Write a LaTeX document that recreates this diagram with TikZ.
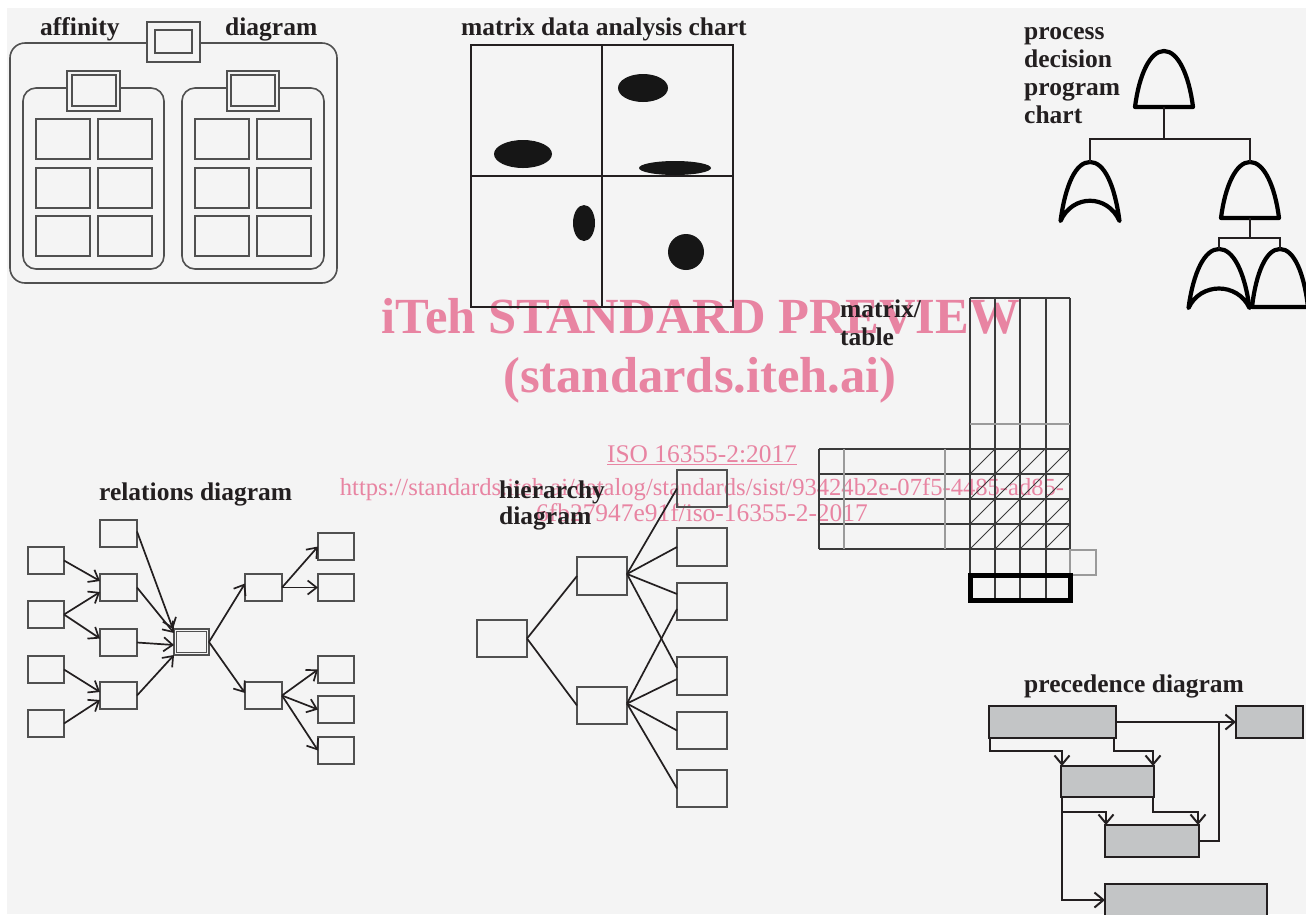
\documentclass[tikz,border=0pt]{standalone}
\usepackage{fontspec}
\setmainfont{Liberation Serif}
\usetikzlibrary{arrows.meta}
\definecolor{bgc}{HTML}{F4F4F4}
\definecolor{ink}{HTML}{231F20}
\definecolor{wm}{RGB}{232,132,162}
\definecolor{pgray}{HTML}{C3C5C6}
\definecolor{bline}{HTML}{505050}
\definecolor{tline}{HTML}{3A3A3A}
\definecolor{tlight}{HTML}{9A9A9A}
\definecolor{blob}{HTML}{161616}
% AND-type gate: name, apex x, apex y, bottom y, half width
\newcommand\pdand[5]{%
  \draw[gate] (#2-#5,#4) .. controls (#2-#5+4,#3+24) and (#2-14,#3) .. (#2,#3)
     .. controls (#2+14,#3) and (#2+#5-4,#3+24) .. (#2+#5,#4) -- cycle;
  \coordinate (#1-top) at (#2,#3);
  \coordinate (#1-bot) at (#2,#4);}
% OR-type gate: name, apex x, apex y, tip y, half width, inner arch y
\newcommand\pdor[6]{%
  \draw[gate] (#2-#5,#4) .. controls (#2-#5+5,#3+22) and (#2-14,#3) .. (#2,#3)
     .. controls (#2+14,#3) and (#2+#5-5,#3+22) .. (#2+#5,#4)
     .. controls (#2+#5-12,#6-7) and (#2-#5+12,#6-7) .. cycle;
  \coordinate (#1-top) at (#2,#3);}
\begin{document}
\begin{tikzpicture}[x=1pt,y=-1pt,
  lbl/.style={font=\fontsize{25.5}{28}\selectfont\bfseries, text=ink, inner sep=0pt, anchor=base west},
  wmb/.style={font=\fontsize{50.6}{56}\selectfont\bfseries, text=wm, inner sep=0pt, anchor=base},
  wms/.style={font=\fontsize{25.4}{28}\selectfont, text=wm, inner sep=0pt, anchor=base},
  sz/.style 2 args={minimum width=#1, minimum height=#2},
  abox/.style={draw=bline, line width=1.6pt, inner sep=0pt, outer sep=0pt, anchor=north west},
  afill/.style={abox, fill=bgc},
  rbox/.style={draw=bline, line width=1.6pt, inner sep=0pt, outer sep=0pt, anchor=north west},
  rarr/.style={draw=ink, line width=1.7pt, -{Straight Barb[length=9pt,width=14pt]}},
  hln/.style={draw=ink, line width=1.7pt},
  pbox/.style={draw=ink, fill=pgray, line width=2.2pt, inner sep=0pt, outer sep=0pt, anchor=north west},
  parr/.style={draw=ink, line width=2pt, -{Straight Barb[length=9pt,width=15pt]}},
  pln/.style={draw=ink, line width=2pt},
  gate/.style={draw=black, line width=4.2pt, line join=round},
  gln/.style={draw=ink, line width=2.2pt},
  tl/.style={draw=tline, line width=1.4pt},
  tll/.style={draw=tlight, line width=1.3pt},
]
\useasboundingbox (0,0) rectangle (1306,914);
\clip (0,0) rectangle (1306,914);
\fill[white] (0,0) rectangle (1306,914);
\fill[bgc] (7,8) rectangle (1306,914);

% ---------- watermark ----------
\node[wmb] (wm1) at (701,333) {iTeh STANDARD PREVIEW};
\node[wmb] (wm2) at (700,392) {(standards.iteh.ai)};
\node[wms] (wm3) at (702,462) {\underline{ISO 16355-2:2017}};
\node[wms, font=\fontsize{24.6}{28}\selectfont] (wm4) at (702,495) {https://standards.iteh.ai/catalog/standards/sist/93424b2e-07f5-4485-ad85-};
\node[wms] (wm5) at (702,521) {6fb27947e91f/iso-16355-2-2017};

% ---------- affinity diagram ----------
\node[lbl] (tAff1) at (40,35) {affinity};
\node[lbl] (tAff2) at (225,35) {diagram};
\draw[bline, line width=1.6pt, rounded corners=15pt] (10,43) rectangle (337,283);
\draw[bline, line width=1.6pt, rounded corners=13pt] (23,88) rectangle (164,269);
\draw[bline, line width=1.6pt, rounded corners=13pt] (182,88) rectangle (324,269);
\node[afill, sz={53}{40}] (aTop) at (147,22) {};
\node[abox, sz={37}{23}] (aTopIn) at (155,30) {};
\node[afill, sz={53}{40}] (aL) at (67,71) {};
\node[abox, sz={44}{31}] (aLIn) at (72,75) {};
\node[afill, sz={52}{40}] (aR) at (227,71) {};
\node[abox, sz={44}{31}] (aRIn) at (231,75) {};
\foreach \r/\y in {1/119,2/168,3/216}{
  \foreach \c/\x in {1/36,2/98,3/195,4/257}{
    \node[abox, sz={54}{40}] (aff\r\c) at (\x,\y) {};
  }
}

% ---------- matrix data analysis chart ----------
\node[lbl] (tMda) at (461,35) {matrix data analysis chart};
\node[draw=ink, line width=2.5pt, sz={262}{262}, anchor=north west, inner sep=0pt, outer sep=0pt] (mda) at (471,45) {};
\draw[ink, line width=2pt] (mda.north) -- (mda.south);
\draw[ink, line width=2pt] (mda.west) -- (mda.east);
\fill[blob] (643,88) ellipse [x radius=25pt, y radius=14pt];
\fill[blob] (523,154) ellipse [x radius=29pt, y radius=14pt];
\fill[blob] (675,168) ellipse [x radius=36pt, y radius=7pt];
\fill[blob] (584,223) ellipse [x radius=11pt, y radius=18pt];
\fill[blob] (686,252) circle [radius=18pt];

% ---------- process decision program chart ----------
\node[lbl] (tP1) at (1024,39) {process};
\node[lbl] (tP2) at (1024,67) {decision};
\node[lbl] (tP3) at (1024,95) {program};
\node[lbl] (tP4) at (1024,123) {chart};
\pdand{g1}{1164}{51}{107}{29}
\pdor{g2}{1090}{162}{221}{29.5}{201}
\pdand{g3}{1250}{162}{218}{29}
\pdor{g4}{1219}{249}{308}{30.5}{289}
\pdand{g5}{1280}{249}{307}{28}
\draw[gln] (g1-bot) -- ++(0,32) coordinate (j1);
\draw[gln] (g2-top) |- (j1);
\draw[gln] (g3-top) |- (j1);
\draw[gln] (g3-bot) -- ++(0,20) coordinate (j2);
\draw[gln] (g4-top) |- (j2);
\draw[gln] (g5-top) |- (j2);

% ---------- matrix / table ----------
\node[lbl] (tMt1) at (840,317) {matrix/};
\node[lbl] (tMt2) at (840,345) {table};
\foreach \x in {970,995,1020,1046,1070} \draw[tl] (\x,298) -- (\x,603);
\draw[tl] (970,298) -- (1070,298);
\draw[tll] (970,424) -- (1070,424);
\foreach \y in {449,474,499,524,549} \draw[tl] (819,\y) -- (1070,\y);
\draw[tl] (819,449) -- (819,549);
\draw[tll] (844,449) -- (844,549);
\draw[tll] (945,449) -- (945,549);
\foreach \i in {0,...,3}{
  \foreach \j in {0,...,3}{
    \draw[tline, line width=0.8pt] (970+25*\i,474+25*\j) -- (995+25*\i,449+25*\j);
  }
}
\draw[tll] (1070,550) rectangle (1096,575);
\draw[black, line width=5pt] (970.5,575.5) rectangle (1070.5,600.5);

% ---------- relations diagram ----------
\node[lbl] (tRel) at (99,500) {relations diagram};
\node[rbox, sz={36}{27}] (L1) at (28,547) {};
\node[rbox, sz={36}{27}] (L2) at (28,601) {};
\node[rbox, sz={36}{27}] (L3) at (28,656) {};
\node[rbox, sz={36}{27}] (L4) at (28,710) {};
\node[rbox, sz={37}{27}] (M0) at (100,520) {};
\node[rbox, sz={37}{27}] (M1) at (100,574) {};
\node[rbox, sz={37}{27}] (M2) at (100,629) {};
\node[rbox, sz={37}{27}] (M3) at (100,682) {};
\node[rbox, fill=bgc, sz={35}{26}] (C) at (174,629) {};
\node[rbox, sz={30}{21}] (Cin) at (176.5,631.5) {};
\node[rbox, sz={37}{27}] (R1) at (245,574) {};
\node[rbox, sz={37}{27}] (R2) at (245,682) {};
\node[rbox, sz={36}{27}] (RR1) at (318,533) {};
\node[rbox, sz={36}{27}] (RR2) at (318,574) {};
\node[rbox, sz={36}{27}] (RR3) at (318,656) {};
\node[rbox, sz={36}{27}] (RR4) at (318,696) {};
\node[rbox, sz={36}{27}] (RR5) at (318,737) {};
\draw[rarr] (L1.east) -- ([yshift=6.5pt]M1.west);
\draw[rarr] (L2.east) -- ([yshift=-4.5pt]M1.west);
\draw[rarr] (L2.east) -- ([yshift=4pt]M2.west);
\draw[rarr] (L3.east) -- ([yshift=3.5pt]M3.west);
\draw[rarr] (L4.east) -- ([yshift=-4.5pt]M3.west);
\draw[rarr] ([yshift=2pt]M0.east) -- ([xshift=-1pt]C.north west);
\draw[rarr] (M1.east) -- ([yshift=-4pt]C.north west);
\draw[rarr] (M2.east) -- ([yshift=-3pt]C.west);
\draw[rarr] (M3.east) -- (C.south west);
\draw[rarr] (C.east) -- ([yshift=4pt]R1.west);
\draw[rarr] (C.east) -- ([yshift=2.5pt]R2.west);
\draw[rarr] (R1.east) -- (RR1.west);
\draw[rarr] (R1.east) -- (RR2.west);
\draw[rarr] (R2.east) -- (RR3.west);
\draw[rarr] (R2.east) -- (RR4.west);
\draw[rarr] (R2.east) -- (RR5.west);

% ---------- hierarchy diagram ----------
\node[lbl] (tH1) at (499,498) {hierarchy};
\node[lbl] (tH2) at (499,524) {diagram};
\node[rbox, sz={50}{37}] (hRoot) at (477,620) {};
\node[rbox, sz={50}{38}] (hM1) at (577,557) {};
\node[rbox, sz={50}{37}] (hM2) at (577,687) {};
\node[rbox, sz={50}{37}] (hA) at (677,470) {};
\node[rbox, sz={50}{38}] (hB) at (677,528) {};
\node[rbox, sz={50}{37}] (hC) at (677,583) {};
\node[rbox, sz={50}{38}] (hD) at (677,657) {};
\node[rbox, sz={50}{37}] (hE) at (677,712) {};
\node[rbox, sz={50}{37}] (hF) at (677,770) {};
\draw[hln] (hRoot.east) -- (hM1.west);
\draw[hln] (hRoot.east) -- (hM2.west);
\draw[hln] ([yshift=2pt]hM1.east) -- (hA.west);
\draw[hln] ([yshift=2pt]hM1.east) -- (hB.west);
\draw[hln] ([yshift=2pt]hM1.east) -- ([yshift=7.5pt]hC.west);
\draw[hln] ([yshift=2pt]hM1.east) -- ([yshift=8pt]hD.west);
\draw[hln] ([yshift=2pt]hM2.east) -- ([yshift=-7.5pt]hC.west);
\draw[hln] ([yshift=2pt]hM2.east) -- ([yshift=-3pt]hD.west);
\draw[hln] ([yshift=2pt]hM2.east) -- (hE.west);
\draw[hln] ([yshift=2pt]hM2.east) -- (hF.west);

% ---------- precedence diagram ----------
\node[lbl] (tPre) at (1024,692) {precedence diagram};
\node[pbox, sz={127}{32}] (P1) at (989,706) {};
\node[pbox, sz={67}{32}] (P2) at (1236,706) {};
\node[pbox, sz={93}{31}] (P3) at (1061,766) {};
\node[pbox, sz={94}{32}] (P4) at (1105,825) {};
\node[pbox, sz={162}{32}] (P5) at (1105,884) {};
\coordinate (pj) at (1219,722);
\draw[parr] (P1.east) -- (P2.west);
\draw[pln] (P4.east) -| (pj);
\draw[parr] ([xshift=1pt]P1.south west) -- ++(0,13) -| ([xshift=1pt]P3.north west);
\draw[parr] ([xshift=-2pt]P1.south east) -- ++(0,13) -| ([xshift=-1pt]P3.north east);
\draw[parr] ([xshift=1pt]P3.south west) -- ++(0,15) -| ([xshift=1pt]P4.north west);
\draw[parr] ([xshift=-1pt]P3.south east) -- ++(0,15) -| ([xshift=-1pt]P4.north east);
\draw[parr] ([xshift=1pt]P3.south west) |- (P5.west);
\end{tikzpicture}
\end{document}
